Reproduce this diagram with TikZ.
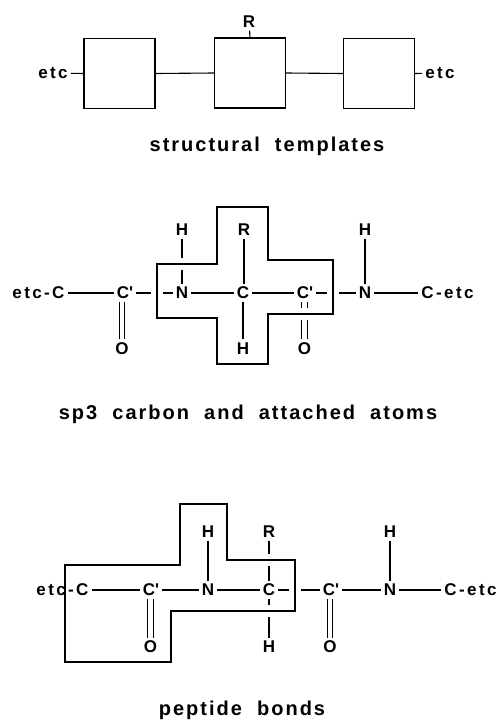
\documentclass[tikz,border=0pt]{standalone}
\usepackage{fontspec}
\setmainfont{Liberation Sans}
\newfontfamily\atomfamily[LetterSpace=14]{Liberation Sans}
\newfontfamily\capfamily[LetterSpace=10]{Liberation Sans}
\usepackage{tikz}
\usetikzlibrary{positioning}
\newcommand{\atomsize}{\atomfamily\bfseries\fontsize{17}{19}\selectfont}
\newcommand{\capsize}{\capfamily\bfseries\fontsize{20}{22}\selectfont}
\newcommand{\Cp}{C\textquotesingle}

\tikzset{
  atom/.style={font=\atomsize, inner sep=3pt},
  bond/.style={line width=1.1pt},
  dbond/.style={bond, double, double distance=4.5pt},
  tmpl/.style={draw, line width=1.4pt, minimum width=71pt, minimum height=70pt, inner sep=0pt},
  outline/.style={line width=1.3pt, preaction={draw=white, line width=12pt}},
  caption/.style={font=\capsize, anchor=base},
}

\begin{document}
\begin{tikzpicture}[x=1pt, y=-1pt]
  \useasboundingbox (0,0) rectangle (501,720);

  % --- Top: structural templates ---
  \node[tmpl] (box1) at (119.5,73.5) {};
  \node[tmpl] (box2) at (250,73) {};
  \node[tmpl] (box3) at (379,73.5) {};
  \node[atom] (etcL) at (53,73) {etc};
  \node[atom] (etcR) at (440,73) {etc};
  \node[atom] (R0) at (249,21.5) {R};
  \draw[bond] (etcL) -- (box1.west);
  \draw[bond] (box1.east) -- (box2.west);
  \draw[bond] (box2.east) -- (box3.west);
  \draw[bond] (box3.east) -- (etcR);
  \draw[bond] (box2.north) -- (R0);
  \node[caption] (cap1) at (267,151) {structural\ \ templates};

  % --- Middle: sp3 carbon ---
  \node[atom] (ec2) at (38.5,293) {etc-C};
  \node[atom] (cp1) at (125,293) {\Cp};
  \node[atom] (N1) at (182,293) {N};
  \node[atom] (C1) at (243,293) {C};
  \node[atom] (cp2) at (305,293) {\Cp};
  \node[atom] (N2) at (365,293) {N};
  \node[atom] (ce2) at (447.5,293) {C-etc};
  \node[atom] (H1) at (182,229.5) {H};
  \node[atom] (R1) at (244,229.5) {R};
  \node[atom] (H3) at (365,229.5) {H};
  \node[atom] (O1) at (122,348.5) {O};
  \node[atom] (H2) at (243,348.5) {H};
  \node[atom] (O2) at (304.5,348.5) {O};

  \draw[bond] (ec2) -- (cp1);
  \draw[bond] (cp1) -- (N1);
  \draw[bond] (N1) -- (C1);
  \draw[bond] (C1) -- (cp2);
  \draw[bond] (cp2) -- (N2);
  \draw[bond] (N2) -- (ce2);
  \draw[bond] (H1) -- (N1);
  \draw[bond] (R1) -- (R1 |- C1.north);
  \draw[bond] (C1) -- (H2);
  \draw[bond] (H3) -- (N2);
  \draw[dbond] (O1) -- (O1 |- cp1.south);
  \draw[dbond] (O2) -- (O2 |- cp2.south);

  % cross round the sp3 carbon
  \draw[outline] (157,264) -- (217,264) -- (217,207) -- (268,207) -- (268,260)
    -- (333,260) -- (333,314) -- (268,314) -- (268,364) -- (217,364)
    -- (217,318) -- (157,318) -- cycle;
  \node[caption] (cap2) at (248,419) {sp3\ \ carbon\ \ and\ \ attached\ \ atoms};

  % --- Bottom: peptide bonds ---
  \node[atom] (cp3) at (151,590) {\Cp};
  \node[atom] (N3) at (208,590) {N};
  \node[atom] (C3) at (269,590) {C};
  \node[atom] (cp4) at (331,590) {\Cp};
  \node[atom] (N4) at (390,590) {N};
  \node[atom] (ce4) at (470.5,590) {C-etc};
  \node[atom] (H4) at (208,532) {H};
  \node[atom] (R2) at (269,532) {R};
  \node[atom] (H6) at (390,532) {H};
  \node[atom] (O3) at (150.5,647) {O};
  \node[atom] (H5) at (269,647) {H};
  \node[atom] (O4) at (330,647) {O};

  \draw[bond] (cp3) -- (N3);
  \draw[bond] (N3) -- (C3);
  \draw[bond] (C3) -- (cp4);
  \draw[bond] (cp4) -- (N4);
  \draw[bond] (N4) -- (ce4);
  \draw[bond] (H4) -- (N3);
  \draw[bond] (R2) -- (C3);
  \draw[bond] (C3) -- (H5);
  \draw[bond] (H6) -- (N4);
  \draw[dbond] (O3) -- (O3 |- cp3.south);
  \draw[dbond] (O4) -- (O4 |- cp4.south);

  % outline round the peptide unit
  \draw[outline] (65,565) -- (180,565) -- (180,504) -- (227,504) -- (227,560)
    -- (295,560) -- (295,611) -- (171,611) -- (171,662) -- (65,662) -- cycle;
  \node[atom] (ec3) at (62.5,590) {etc-C};
  \draw[bond] (ec3) -- (cp3);
  \node[caption] (cap3) at (242,715) {peptide\ \ bonds};
\end{tikzpicture}
\end{document}
